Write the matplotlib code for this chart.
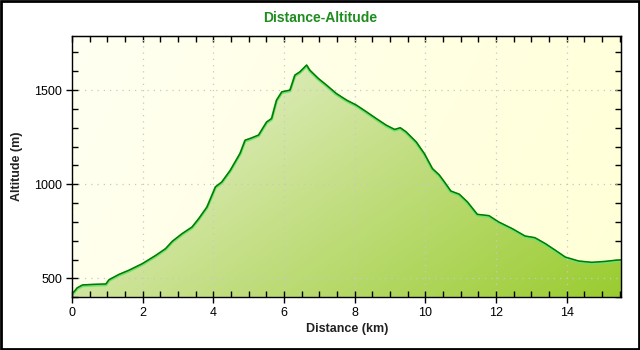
import numpy as np
import matplotlib
matplotlib.use("Agg")
import matplotlib.pyplot as plt
from matplotlib.colors import LinearSegmentedColormap
from matplotlib.patches import Rectangle
from matplotlib.ticker import MultipleLocator

distance_km = [0.0, 0.05, 0.15, 0.3, 0.6, 0.96, 1.05, 1.33, 1.61, 1.99, 2.37, 2.65, 2.84,
               3.12, 3.40, 3.59, 3.82, 3.96, 4.06, 4.24, 4.48, 4.76, 4.90, 5.04, 5.28,
               5.51, 5.65, 5.79, 5.94, 6.17, 6.31, 6.45, 6.64, 6.73, 6.97, 7.20, 7.48,
               7.77, 8.05, 8.33, 8.61, 8.89, 9.13, 9.29, 9.45, 9.74, 9.97, 10.20, 10.39,
               10.54, 10.72, 10.96, 11.19, 11.47, 11.80, 12.08, 12.46, 12.82, 13.10,
               13.40, 13.68, 13.96, 14.34, 14.71, 15.09, 15.37, 15.55]
altitude_m = [420, 427, 450, 465, 468, 470, 493, 521, 543, 578, 622, 658, 697,
              738, 773, 818, 879, 941, 986, 1012, 1074, 1165, 1234, 1243, 1261,
              1331, 1349, 1447, 1491, 1500, 1580, 1597, 1633, 1606, 1562, 1527, 1482,
              1447, 1420, 1385, 1349, 1314, 1291, 1300, 1279, 1225, 1163, 1083, 1050,
              1012, 964, 947, 906, 840, 833, 799, 764, 725, 716,
              684, 649, 613, 592, 585, 590, 596, 598]

title_text = "Distance-Altitude"
xlabel_text = "Distance (km)"
ylabel_text = "Altitude (m)"

XMIN, XMAX = 0, 15.55
YMIN, YMAX = 400, 1787

plt.rcParams['font.family'] = ['Liberation Sans', 'DejaVu Sans']

fig = plt.figure(figsize=(6.4, 3.5), dpi=100)
fig.patch.set_facecolor('white')
ax = fig.add_axes([0.1125, 0.151, 0.971 - 0.1125, 0.897 - 0.151])

x = np.array(distance_km)
y = np.array(altitude_m)

# background gradient (light yellow)
bg_cmap = LinearSegmentedColormap.from_list('bg', ['#FFFFF2', '#FFFFD6'])
gx = np.linspace(0, 1, 256)
gy = np.linspace(0, 1, 64)
GX, GY = np.meshgrid(gx, gy)
ax.imshow((GX * 0.8 + (1 - GY) * 0.2), cmap=bg_cmap, aspect='auto',
          extent=[XMIN, XMAX, YMIN, YMAX], origin='lower', zorder=0, vmin=0, vmax=1)

# fill gradient
fill_cmap = LinearSegmentedColormap.from_list('fill', ['#F4F8EA', '#C6E08A', '#9ACC30'])
Z = (GX * 0.6 + (1 - GY) * 0.4)
poly = ax.fill_between(x, y, YMIN, facecolor='none', edgecolor='none')
im = ax.imshow(Z, cmap=fill_cmap, aspect='auto', extent=[XMIN, XMAX, YMIN, YMAX],
               origin='lower', zorder=1, vmin=0, vmax=1)
path = poly.get_paths()[0]
im.set_clip_path(path, transform=ax.transData)

# line with light shadow
ax.plot(x, y - 5, color='#70E070', lw=2.0, zorder=2, solid_capstyle='butt')
ax.plot(x, y, color='#007A00', lw=1.1, zorder=3)

ax.set_xlim(XMIN, XMAX)
ax.set_ylim(YMIN, YMAX)

for axis in (ax.xaxis,):
    axis.set_major_locator(MultipleLocator(2))
    axis.set_minor_locator(MultipleLocator(0.5))
ax.yaxis.set_major_locator(MultipleLocator(500))
ax.yaxis.set_minor_locator(MultipleLocator(100))

ax.grid(True, which='major', color='#C8C8C8', linestyle=(0, (1, 4)), lw=0.9, zorder=1.5)
ax.set_axisbelow(False)

ax.tick_params(which='major', direction='inout', length=8, width=1, labelsize=9,
               top=False, right=False, pad=3, colors='black')
ax.tick_params(which='minor', direction='in', length=4, width=1, top=False, right=False,
               colors='black')

# top and right ticks pointing inward only
top = ax.secondary_xaxis('top')
top.xaxis.set_major_locator(MultipleLocator(2))
top.xaxis.set_minor_locator(MultipleLocator(0.5))
top.tick_params(which='major', direction='in', length=4, width=1, labeltop=False)
top.tick_params(which='minor', direction='in', length=4, width=1)
right = ax.secondary_yaxis('right')
right.yaxis.set_major_locator(MultipleLocator(500))
right.yaxis.set_minor_locator(MultipleLocator(100))
right.tick_params(which='major', direction='in', length=4, width=1, labelright=False)
right.tick_params(which='minor', direction='in', length=4, width=1)

for sp in ax.spines.values():
    sp.set_linewidth(1)
    sp.set_color('black')
    sp.set_zorder(5)

ax.set_xlabel(xlabel_text, fontsize=9, fontweight='bold', color='#222222', labelpad=3)
ax.set_ylabel(ylabel_text, fontsize=9, fontweight='bold', color='#222222', labelpad=8)
fig.text(0.5, 0.948, title_text, ha='center', va='center', fontsize=10,
         fontweight='bold', color='#1E8C1E')

fig.patches.append(Rectangle((0.0015, 0.0025), 0.997, 0.995, transform=fig.transFigure,
                             fill=False, edgecolor='black', lw=2))

fig.savefig('out.png', dpi=100)
